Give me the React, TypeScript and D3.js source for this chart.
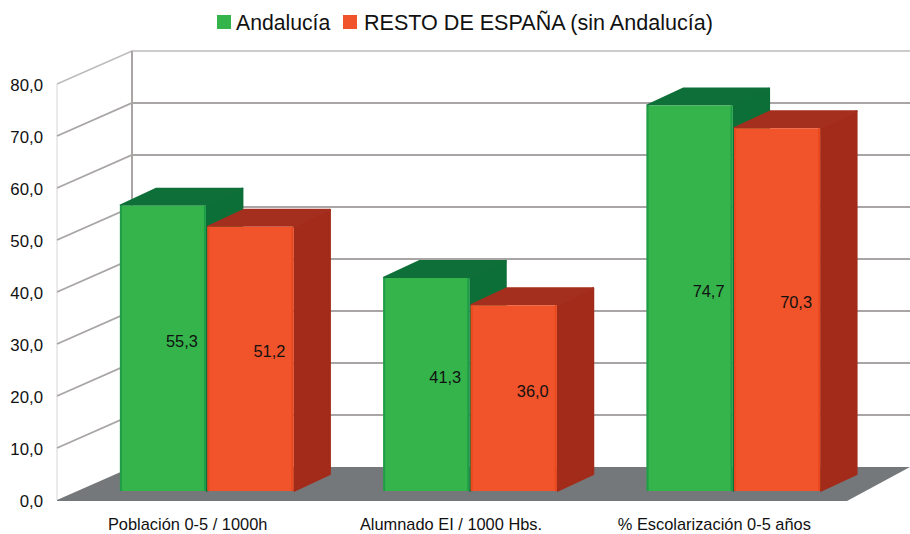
import React from "react";
import * as d3 from "d3";

const categories = ["Población 0-5 / 1000h", "Alumnado EI / 1000 Hbs.", "% Escolarización 0-5 años"];
const seriesNames = ["Andalucía", "RESTO DE ESPAÑA (sin Andalucía)"];
const andalucia = [55.3, 41.3, 74.7];
const restoEspana = [51.2, 36.0, 70.3];
const yTicks = [0, 10, 20, 30, 40, 50, 60, 70, 80];

const W = 910, H = 534;
const FONT = "'Liberation Sans', Arial, sans-serif";
const wallDx = 75, wallDy = -33;
const barDx = 36.5, barDy = -17;

const xBand = d3.scaleBand<string>().domain(categories).range([57, 847]);
const yFront = d3.scaleLinear().domain([0, 80]).range([500, 84]);
const yBar = d3.scaleLinear().domain([0, 80]).range([491, 491 - 80 * 5.16]);
const fmt = (v: number) => d3.format(".1f")(v).replace(".", ",");
const poly = d3.line<[number, number]>();

const GREEN = { front: "#35b44c", top: "#0e7038", side: "#0d6f38", edge: "#1f9c48" };
const ORANGE = { front: "#f1532a", top: "#a52f1e", side: "#a32b1a", edge: "#e8491f" };

function Bar({ x, w, v, c }: { x: number; w: number; v: number; c: typeof GREEN }) {
  const y0 = yBar(0), y1 = yBar(v);
  const top: [number, number][] = [[x, y1], [x + barDx, y1 + barDy], [x + w + barDx, y1 + barDy], [x + w, y1]];
  const side: [number, number][] = [[x + w, y1], [x + w + barDx, y1 + barDy], [x + w + barDx, y0 + barDy], [x + w, y0]];
  return (
    <g>
      <path d={poly(side)!} fill={c.side} stroke={c.side} strokeWidth={2} strokeLinejoin="round" />
      <path d={poly(top)!} fill={c.top} stroke={c.top} strokeWidth={2} strokeLinejoin="round" />
      <rect x={x} y={y1} width={w} height={y0 - y1} fill={c.front} rx={1} />
      <rect x={x} y={y1} width={2} height={y0 - y1} fill={c.edge} />
      <rect x={x + w - 2} y={y1} width={2} height={y0 - y1} fill={c.edge} />
    </g>
  );
}

export default function App() {
  const backX = 57 + wallDx;
  const floorBack = yFront(0) + wallDy;
  const barW = 86;
  const gap = 1.5;
  return (
    <svg width={W} height={H} style={{ position: "absolute", left: 0, top: 0, background: "#fff" }} fontFamily={FONT}>
      {/* walls */}
      <path d={poly([[57, yFront(80)], [backX, yFront(80) + wallDy], [910, yFront(80) + wallDy]])!} fill="none" stroke="#bdbaba" strokeWidth={1.4} />
      <line x1={57} x2={57} y1={yFront(80)} y2={500} stroke="#d8d6d6" strokeWidth={1} />
      {yTicks.filter(t => t > 0 && t < 80).map(t => {
        const yy = yFront(t);
        return (
          <path key={t} d={poly([[57, yy], [backX, yy + wallDy], [910, yy + wallDy]])!} fill="none" stroke="#a9a5a5" strokeWidth={1.8} />
        );
      })}
      <line x1={backX} x2={backX} y1={yFront(80) + wallDy} y2={floorBack} stroke="#a9a5a5" strokeWidth={2} />
      {/* floor */}
      <path d={poly([[57, 500], [backX, floorBack], [910, floorBack], [910, 467], [847, 501], [57, 501]])!} fill="#75787a" />
      {/* bars */}
      {categories.map((cat, i) => {
        const cx = xBand(cat)! + xBand.bandwidth() / 2 + 18.5;
        const gx = cx - barW - gap / 2 - 0.5;
        const ox = cx + gap / 2 - 0.5;
        return (
          <g key={cat}>
            <Bar x={gx} w={barW} v={andalucia[i]} c={GREEN} />
            <Bar x={ox} w={barW} v={restoEspana[i]} c={ORANGE} />
            <text x={gx + barW / 2 + 19} y={(yBar(andalucia[i]) + yBar(0)) / 2 - 7.5} textAnchor="middle" dominantBaseline="central" fontSize={16.4} fill="#111">{fmt(andalucia[i])}</text>
            <text x={ox + barW / 2 + 19} y={(yBar(restoEspana[i]) + yBar(0)) / 2 - 7.5} textAnchor="middle" dominantBaseline="central" fontSize={16.4} fill="#111">{fmt(restoEspana[i])}</text>
            <text x={xBand(cat)! + xBand.bandwidth() / 2 - 1} y={530.3} textAnchor="middle" fontSize={16.4} fill="#111">{cat}</text>
          </g>
        );
      })}
      {/* y labels */}
      {yTicks.map(t => (
        <text key={t} x={43} y={yFront(t) + 1} textAnchor="end" dominantBaseline="central" fontSize={16.8} fill="#111">{fmt(t)}</text>
      ))}
      {/* legend */}
      <rect x={217} y={15} width={14} height={14} fill={GREEN.front} />
      <text x={236} y={22} dominantBaseline="central" fontSize={21.2} fill="#111">{seriesNames[0]}</text>
      <rect x={343} y={15} width={14} height={14} fill={ORANGE.front} />
      <text x={364} y={22} dominantBaseline="central" fontSize={21.55} fill="#111">{seriesNames[1]}</text>
    </svg>
  );
}
